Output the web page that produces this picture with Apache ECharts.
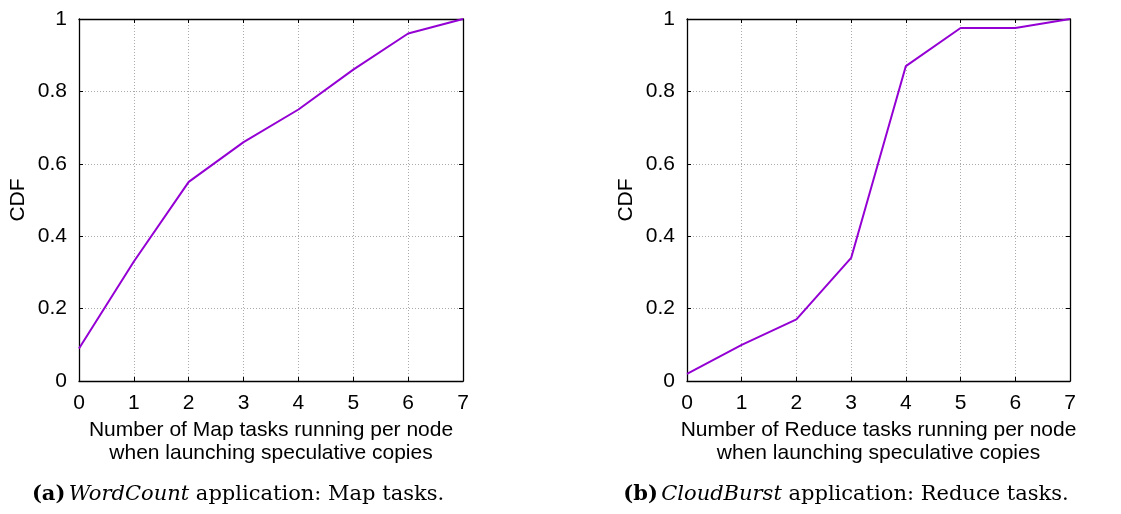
<!DOCTYPE html>
<html>
<head>
<meta charset="utf-8">
<script src="https://cdn.jsdelivr.net/npm/echarts@6/dist/echarts.min.js"></script>
<style>
html,body{margin:0;padding:0;background:#fff;}
#c{width:1121px;height:514px;}
</style>
</head>
<body>
<div id="c"></div>
<script>
const xValues = [0, 1, 2, 3, 4, 5, 6, 7];
const mapCdf = [0.09, 0.33, 0.55, 0.66, 0.75, 0.86, 0.96, 1.0];
const reduceCdf = [0.02, 0.10, 0.17, 0.34, 0.87, 0.975, 0.975, 1.0];
const yLabel = 'CDF';
const xLabelMap = 'Number of Map tasks running per node\nwhen launching speculative copies';
const xLabelReduce = 'Number of Reduce tasks running per node\nwhen launching speculative copies';
const captionA = ['(a)', 'WordCount', ' application: Map tasks.'];
const captionB = ['(b)', 'CloudBurst', ' application: Reduce tasks.'];

const sans = '"Liberation Sans", Arial, sans-serif';
const serif = '"DejaVu Serif", "Liberation Serif", serif';
const lineColor = '#9400d3';
const fs = 21;

const grids = [
  {left: 79, top: 19, width: 384, height: 362},
  {left: 687, top: 19, width: 383, height: 362}
];

function xAxisMain(gi, name) {
  return {
    type: 'value', gridIndex: gi, min: 0, max: 7, interval: 1, position: 'bottom',
    name: name, nameLocation: 'middle', nameGap: 35,
    nameTextStyle: {fontFamily: sans, fontSize: fs, color: '#000', lineHeight: 23},
    axisLine: {show: true, onZero: false, lineStyle: {color: '#000', width: 1.3}},
    axisTick: {show: true, inside: true, length: 4, lineStyle: {color: '#000'}},
    axisLabel: {fontFamily: sans, fontSize: fs, color: '#000', margin: 12},
    splitLine: {show: true, lineStyle: {color: '#aaa', type: [1, 2], width: 1}}
  };
}
function xAxisTop(gi) {
  return {
    type: 'value', gridIndex: gi, min: 0, max: 7, interval: 1, position: 'top',
    axisLine: {show: true, onZero: false, lineStyle: {color: '#000', width: 1.3}},
    axisTick: {show: true, inside: true, length: 4, lineStyle: {color: '#000'}},
    axisLabel: {show: false}, splitLine: {show: false}
  };
}
function yAxisMain(gi) {
  return {
    type: 'value', gridIndex: gi, min: 0, max: 1, interval: 0.2, position: 'left',
    name: yLabel, nameLocation: 'middle', nameGap: 50, nameRotate: 90,
    nameTextStyle: {fontFamily: sans, fontSize: fs, color: '#000'},
    axisLine: {show: true, onZero: false, lineStyle: {color: '#000', width: 1.3}},
    axisTick: {show: true, inside: true, length: 4, lineStyle: {color: '#000'}},
    axisLabel: {fontFamily: sans, fontSize: fs, color: '#000', margin: 12,
      formatter: v => (Math.round(v * 10) / 10).toString()},
    splitLine: {show: true, lineStyle: {color: '#aaa', type: [1, 2], width: 1}}
  };
}
function yAxisRight(gi) {
  return {
    type: 'value', gridIndex: gi, min: 0, max: 1, interval: 0.2, position: 'right',
    axisLine: {show: true, onZero: false, lineStyle: {color: '#000', width: 1.3}},
    axisTick: {show: true, inside: true, length: 4, lineStyle: {color: '#000'}},
    axisLabel: {show: false}, splitLine: {show: false}
  };
}

function captionText(parts, cx) {
  return {
    type: 'text', x: cx, y: 495, style: {
      text: '{b|' + parts[0] + '} {i|' + parts[1] + '}{n|' + parts[2] + '}',
      align: 'center', verticalAlign: 'middle',
      rich: {
        b: {fontFamily: serif, fontWeight: 'bold', fontSize: 21, fill: '#000'},
        i: {fontFamily: serif, fontStyle: 'italic', fontSize: 21, fill: '#000'},
        n: {fontFamily: serif, fontSize: 21, fill: '#000'}
      }
    }
  };
}

const chart = echarts.init(document.getElementById('c'), null, {renderer: 'canvas'});
chart.setOption({
  animation: false,
  backgroundColor: '#fff',
  grid: grids,
  xAxis: [xAxisMain(0, xLabelMap), xAxisTop(0), xAxisMain(1, xLabelReduce), xAxisTop(1)],
  yAxis: [yAxisMain(0), yAxisRight(0), yAxisMain(1), yAxisRight(1)],
  series: [
    {type: 'line', xAxisIndex: 0, yAxisIndex: 0, data: xValues.map((x, i) => [x, mapCdf[i]]),
      showSymbol: false, lineStyle: {color: lineColor, width: 2}},
    {type: 'line', xAxisIndex: 2, yAxisIndex: 2, data: xValues.map((x, i) => [x, reduceCdf[i]]),
      showSymbol: false, lineStyle: {color: lineColor, width: 2}}
  ],
  graphic: [captionText(captionA, 238), captionText(captionB, 846)]
});
</script>
</body>
</html>
